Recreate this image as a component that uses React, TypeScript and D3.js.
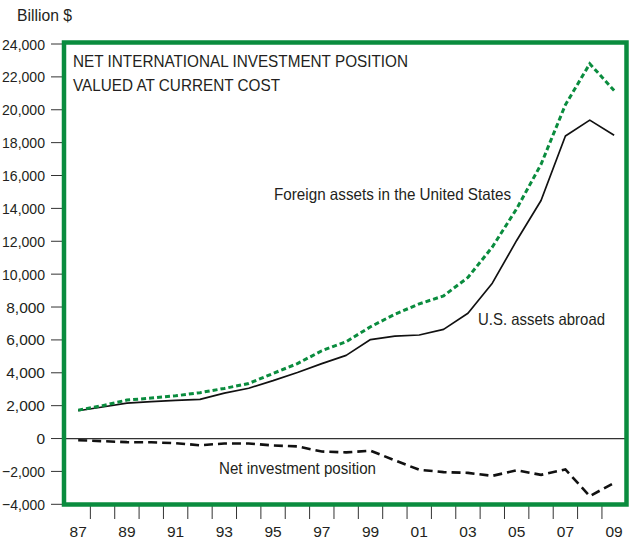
import React from "react";
import * as d3 from "d3";

const years = d3.range(1987, 2010);
const usAssetsAbroad = [1690, 1920, 2150, 2240, 2320, 2380, 2760, 3060, 3520, 4020, 4560, 5060, 6020, 6230, 6300, 6640, 7620, 9450, 12050, 14480, 18400, 19370, 18450];
const foreignAssetsInUS = [1730, 2000, 2340, 2460, 2600, 2790, 3050, 3350, 3960, 4560, 5340, 5890, 6800, 7560, 8190, 8680, 9800, 11650, 13980, 16680, 20300, 22800, 21170];
const netPosition = [-100, -160, -220, -230, -280, -410, -300, -300, -420, -480, -790, -840, -740, -1330, -1900, -2040, -2090, -2270, -1930, -2210, -1880, -3500, -2700];
const yTicks = [-4000, -2000, 0, 2000, 4000, 6000, 8000, 10000, 12000, 14000, 16000, 18000, 20000, 22000, 24000];
const xLabelYears = [1987, 1989, 1991, 1993, 1995, 1997, 1999, 2001, 2003, 2005, 2007, 2009];

const GREEN = "#0a8c3e";
const TEXT = "#231f20";
const FONT = "'Liberation Sans', Arial, Helvetica, sans-serif";

export default function App() {
  const W = 639, H = 540;
  const frame = { x0: 64, x1: 626.5, y0: 42.5, y1: 504.5 };
  const x = d3.scaleLinear().domain([1986.5, 2009.5]).range([66, 626.3]);
  const y = d3.scaleLinear().domain([-4000, 24000]).range([504.3, 44]);

  const line = (vals: number[]) =>
    d3.line<number>().x((_, i) => x(years[i])).y((v) => y(v))(vals) || "";

  const fmt = d3.format(",");
  const boundaries = d3.range(1987.5, 2009, 1);

  return (
    <svg width={W} height={H} style={{ position: "absolute", left: 0, top: 0, background: "#fff" }} fontFamily={FONT}>
      <rect x={0} y={0} width={W} height={H} fill="#fff" />
      <text x={17} y={21} fontSize={16} fill={TEXT} textLength={55} lengthAdjust="spacingAndGlyphs">Billion $</text>
      {/* y ticks and labels */}
      {yTicks.map((t) => {
        const label = t === 0 ? "0" : fmt(t);
        const long = label.length >= 6;
        return (
          <g key={t}>
            <line x1={51} x2={frame.x0} y1={y(t)} y2={y(t)} stroke="#333" strokeWidth={1} />
            <text
              x={45}
              y={y(t) + 5.5}
              textAnchor="end"
              fontSize={15.5}
              fill={TEXT}
              {...(long ? { textLength: 43, lengthAdjust: "spacingAndGlyphs" } : {})}
            >
              {label}
            </text>
          </g>
        );
      })}
      {/* x ticks */}
      {boundaries.map((b) => (
        <line key={b} x1={x(b)} x2={x(b)} y1={frame.y1} y2={519} stroke="#333" strokeWidth={1} />
      ))}
      {xLabelYears.map((yr) => (
        <text key={yr} x={x(yr)} y={537} textAnchor="middle" fontSize={15.5} fill={TEXT}>
          {String(yr % 100).padStart(2, "0")}
        </text>
      ))}
      {/* zero line */}
      <line x1={frame.x0} x2={frame.x1} y1={y(0)} y2={y(0)} stroke="#333" strokeWidth={1.2} />
      {/* series */}
      <path d={line(usAssetsAbroad)} fill="none" stroke="#111" strokeWidth={1.7} strokeLinejoin="round" />
      <path d={line(foreignAssetsInUS)} fill="none" stroke={GREEN} strokeWidth={3} strokeDasharray="5 3" />
      <path d={line(netPosition)} fill="none" stroke="#111" strokeWidth={2.6} strokeDasharray="9 5" />
      {/* frame */}
      <rect x={frame.x0} y={frame.y0} width={frame.x1 - frame.x0} height={frame.y1 - frame.y0} fill="none" stroke={GREEN} strokeWidth={4.5} />
      {/* title */}
      <text x={73} y={67} fontSize={16.5} fill={TEXT} textLength={335} lengthAdjust="spacingAndGlyphs">NET INTERNATIONAL INVESTMENT POSITION</text>
      <text x={73} y={90.5} fontSize={16.5} fill={TEXT} textLength={207} lengthAdjust="spacingAndGlyphs">VALUED AT CURRENT COST</text>
      {/* labels */}
      <text x={274} y={200} fontSize={16.5} fill={TEXT} textLength={237} lengthAdjust="spacingAndGlyphs">Foreign assets in the United States</text>
      <text x={478} y={325} fontSize={16.5} fill={TEXT} textLength={127} lengthAdjust="spacingAndGlyphs">U.S. assets abroad</text>
      <text x={219} y={474} fontSize={16.5} fill={TEXT} textLength={157} lengthAdjust="spacingAndGlyphs">Net investment position</text>
    </svg>
  );
}
